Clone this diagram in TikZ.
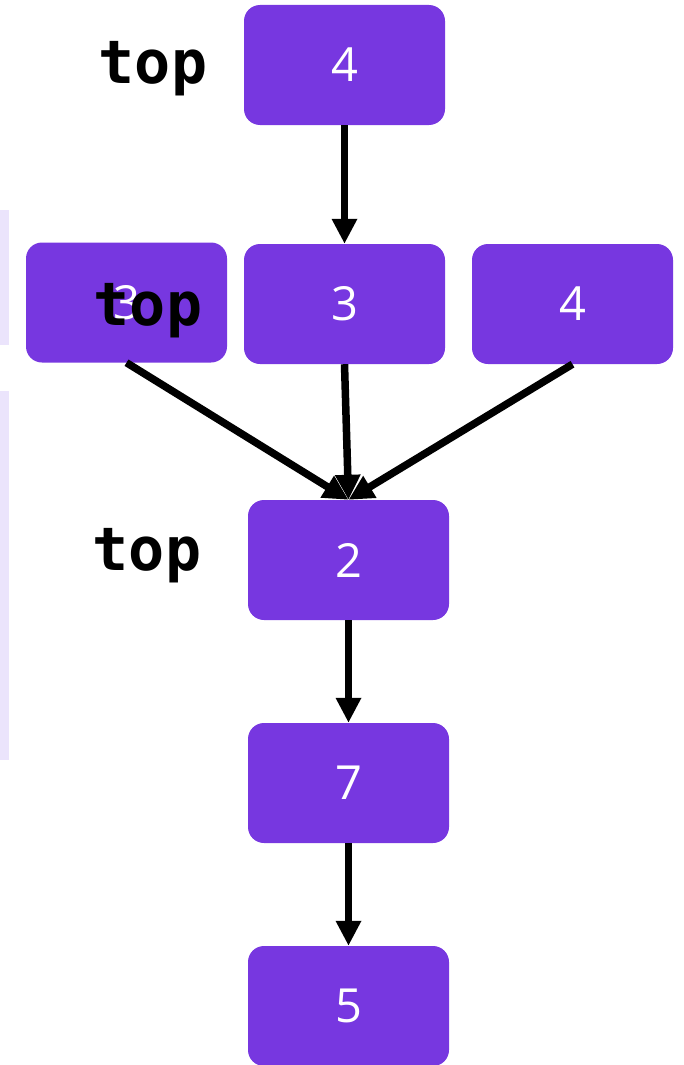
\documentclass[tikz,border=0pt]{standalone}
\usepackage{fontspec}
\setmainfont{Open Sans}
\newfontfamily\topfont{DejaVu Sans Mono}
\usetikzlibrary{arrows.meta}
\definecolor{nodepurple}{HTML}{7737E0}
\definecolor{striplav}{HTML}{EBE4FC}
\begin{document}
\begin{tikzpicture}[x=1pt,y=-1pt,
  box/.style={fill=nodepurple, rounded corners=16pt, minimum width=201pt, minimum height=120pt,
    inner sep=0pt, text=white, font=\fontsize{47}{50}\selectfont},
  toplabel/.style={font=\topfont\bfseries\fontsize{60}{64}\selectfont, text=black, inner sep=0pt, anchor=base},
  conn/.style={line width=7.5pt, -{Triangle[length=25pt,width=24pt]}}]
\useasboundingbox (0,0) rectangle (684,1065);
\fill[striplav] (0,210) rectangle (9,345);
\fill[striplav] (0,391) rectangle (9,760);
\node[box] (a) at (344.5,65) {4};
\node[box] (b1) at (126.5,302.5) {3};
\node[box] (b2) at (344.5,304) {3};
\node[box] (b3) at (572.5,304) {4};
\node[box] (c) at (348.5,560) {2};
\node[box] (d) at (348.5,783) {7};
\node[box] (e) at (348.5,1006) {5};
\draw[conn] (a.south) -- (b2.north);
\draw[conn] (b1.south) -- (c.north);
\draw[conn] (b2.south) -- (c.north);
\draw[conn] (b3.south) -- (c.north);
\draw[conn] (c.south) -- (d.north);
\draw[conn] (d.south) -- (e.north);
\node[toplabel] (t1) at (153,83) {top};
\node[toplabel] (t2) at (148,325) {top};
\node[toplabel] (t3) at (147,570) {top};
\end{tikzpicture}
\end{document}
